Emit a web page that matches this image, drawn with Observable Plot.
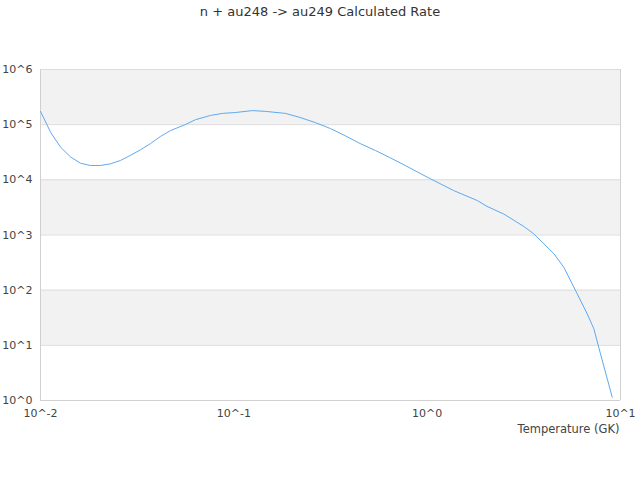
<!DOCTYPE html>
<html>
<head>
<meta charset="utf-8">
<script src="https://cdn.jsdelivr.net/npm/d3@7"></script>
<script src="https://cdn.jsdelivr.net/npm/@observablehq/plot@0.6"></script>
<style>
  body { margin: 0; background: #fff; font-family: "DejaVu Sans", sans-serif; }
  #wrap { position: relative; width: 640px; height: 480px; }
  #title { position: absolute; top: 4px; left: 0; width: 640px; text-align: center; font-size: 13px; color: #333; }
</style>
</head>
<body>
<div id="wrap">
  <div id="title">n + au248 -&gt; au249 Calculated Rate</div>
  <div id="chart"></div>
</div>
<script>
const temperature = [0.01, 0.0113, 0.0127, 0.0143, 0.0161, 0.0181, 0.0204, 0.023, 0.0259, 0.0292, 0.0329, 0.0371, 0.0417, 0.047, 0.056, 0.0633, 0.0758, 0.0873, 0.1019, 0.125, 0.146, 0.185, 0.22, 0.264, 0.316, 0.377, 0.45, 0.54, 0.64, 0.77, 1.0, 1.37, 1.82, 2.04, 2.49, 3.16, 3.56, 4.52, 5.09, 5.97, 6.73, 7.28, 7.88, 9.06];
const rate = [1.74e5, 7.2e4, 3.9e4, 2.6e4, 2.0e4, 1.82e4, 1.82e4, 1.95e4, 2.24e4, 2.78e4, 3.5e4, 4.55e4, 6.1e4, 7.8e4, 1.0e5, 1.23e5, 1.47e5, 1.6e5, 1.66e5, 1.8e5, 1.74e5, 1.6e5, 1.35e5, 1.09e5, 8.5e4, 6.3e4, 4.55e4, 3.4e4, 2.54e4, 1.82e4, 1.12e4, 6.4e3, 4.2e3, 3.3e3, 2.4e3, 1.43e3, 1.05e3, 4.6e2, 2.6e2, 86, 37, 20, 7.0, 1.15];
const yTicks = [1, 10, 100, 1000, 1e4, 1e5, 1e6];
const yTickLabels = ["10^0", "10^1", "10^2", "10^3", "10^4", "10^5", "10^6"];
const xTicks = [0.01, 0.1, 1, 10];
const xTickLabels = ["10^-2", "10^-1", "10^0", "10^1"];
const bandLow = [1e5, 1e3, 1e1];
const bandHigh = [1e6, 1e4, 1e2];

const data = temperature.map((t, i) => ({t, r: rate[i]}));
const bands = bandLow.map((lo, i) => ({lo, hi: bandHigh[i]}));

const chart = Plot.plot({
  width: 640,
  height: 480,
  marginLeft: 40,
  marginRight: 20,
  marginTop: 69,
  marginBottom: 80,
  style: {fontFamily: "DejaVu Sans, sans-serif", fontSize: "11px", color: "#444", background: "#fff"},
  x: {type: "log", domain: [0.01, 10]},
  y: {type: "log", domain: [1, 1e6]},
  marks: [
    Plot.rect(bands, {x1: 0.01, x2: 10, y1: "lo", y2: "hi", fill: "#f2f2f2"}),
    Plot.ruleY(yTicks, {stroke: "#dcdcdc", strokeWidth: 1}),
    Plot.ruleX([0.01, 10], {stroke: "#d0d0d0"}),
    Plot.ruleY([1], {stroke: "#d0d0d0"}),
    Plot.axisY({ticks: yTicks, tickFormat: (d) => yTickLabels[yTicks.indexOf(d)], tickSize: 0, tickPadding: 8, label: null, fill: "#444"}),
    Plot.axisX({ticks: xTicks, tickFormat: (d) => xTickLabels[xTicks.indexOf(d)], tickSize: 0, tickPadding: 9, label: null, fill: "#444"}),
    Plot.text(["Temperature (GK)"], {frameAnchor: "bottom-right", dy: 32, dx: -1, textAnchor: "end", fill: "#444", fontSize: 11.5}),
    Plot.line(data, {x: "t", y: "r", stroke: "#5ea9f0", strokeWidth: 1})
  ]
});
document.getElementById("chart").appendChild(chart);
</script>
</body>
</html>
